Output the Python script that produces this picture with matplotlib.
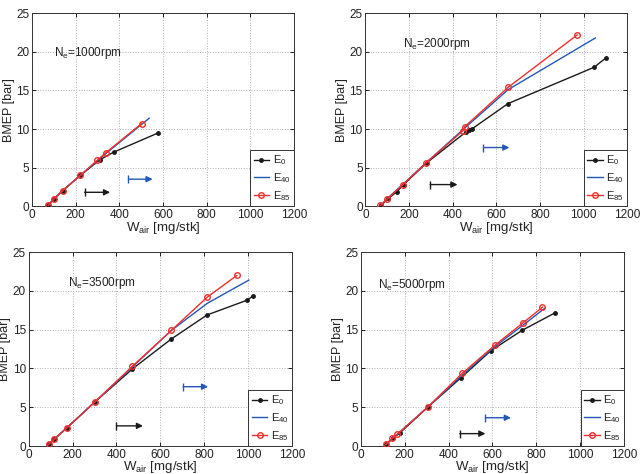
import numpy as np
import matplotlib
matplotlib.use('Agg')
import matplotlib.pyplot as plt

plt.rcParams['font.family'] = ['Liberation Sans', 'DejaVu Sans']
plt.rcParams['mathtext.fontset'] = 'custom'
plt.rcParams['mathtext.rm'] = 'Liberation Sans'
plt.rcParams['mathtext.it'] = 'Liberation Sans'
plt.rcParams['text.color'] = '#222222'
plt.rcParams['axes.labelcolor'] = '#222222'
plt.rcParams['xtick.labelcolor'] = '#222222'
plt.rcParams['ytick.labelcolor'] = '#222222'

# engine speeds (rpm)
speeds = [1000, 2000, 3500, 5000]

# E0 (air mass [mg/stk], BMEP [bar])
e0_w = [[74, 100, 140, 222, 310, 374, 579],
        [72, 105, 145, 175, 280, 460, 475, 490, 654, 1048, 1104],
        [90, 117, 172, 302, 473, 650, 813, 995, 1023],
        [114, 145, 178, 304, 456, 593, 734, 887]]
e0_b = [[0.1, 0.95, 2.0, 4.0, 6.0, 7.0, 9.5],
        [0.1, 1.0, 1.9, 2.8, 5.6, 9.6, 9.9, 10.05, 13.3, 18.0, 19.25],
        [0.2, 0.9, 2.3, 5.7, 9.95, 13.8, 16.9, 18.8, 19.35],
        [0.2, 1.0, 1.7, 5.0, 8.8, 12.3, 14.9, 17.2]]

# E40
e40_w = [[75, 100, 140, 222, 300, 340, 537],
         [70, 100, 170, 277, 450, 654, 1054],
         [90, 117, 172, 302, 473, 650, 814, 1004],
         [114, 143, 165, 304, 460, 605, 740, 840]]
e40_b = [[0.1, 0.95, 2.0, 4.0, 5.9, 6.85, 11.4],
         [0.1, 1.0, 2.8, 5.6, 10.0, 15.1, 21.8],
         [0.2, 0.95, 2.3, 5.7, 10.2, 14.9, 18.4, 21.4],
         [0.2, 1.0, 1.5, 5.0, 9.1, 12.7, 15.6, 17.8]]

# E85
e85_w = [[74, 100, 140, 222, 299, 337, 502],
         [69, 99, 170, 277, 448, 455, 654, 971],
         [90, 117, 172, 302, 473, 650, 814, 949],
         [114, 143, 165, 304, 463, 611, 740, 828]]
e85_b = [[0.1, 0.9, 2.0, 4.0, 5.95, 6.9, 10.7],
         [0.1, 0.9, 2.75, 5.6, 9.8, 10.3, 15.4, 22.2],
         [0.2, 0.9, 2.3, 5.7, 10.3, 14.9, 19.2, 22.0],
         [0.2, 1.0, 1.5, 5.0, 9.4, 13.0, 15.9, 17.9]]

# trend arrows: (x start, x end, y)
arrows_e0 = [(241, 358, 1.8), (297, 422, 2.8), (400, 521, 2.6), (451, 568, 1.6)]
arrows_e40 = [(442, 553, 3.5), (541, 660, 7.6), (704, 818, 7.65), (568, 684, 3.65)]

label_pos = [(100, 19.5), (170, 20.6), (179, 20.6), (76, 20.4)]

c_e0 = '#1a1a1a'
c_e40 = '#2358b8'
c_e85 = '#f0302c'

axes_rect = [[0.050, 0.565, 0.409, 0.407],
             [0.571, 0.565, 0.409, 0.407],
             [0.045, 0.059, 0.411, 0.409],
             [0.564, 0.059, 0.411, 0.409]]

fig = plt.figure(figsize=(6.4, 4.74), dpi=100)

for i, rpm in enumerate(speeds):
    ax = fig.add_axes(axes_rect[i])
    ax.plot(e0_w[i], e0_b[i], '-', color=c_e0, lw=1.0, marker='.', ms=5,
            label=r'E$_0$', zorder=3)
    ax.plot(e40_w[i], e40_b[i], '-', color=c_e40, lw=1.0,
            label=r'E$_{40}$', zorder=4)
    ax.plot(e85_w[i], e85_b[i], '-', color=c_e85, lw=1.0, marker='o', ms=4,
            mfc='none', mew=1.0, label=r'E$_{85}$', zorder=5)

    for (xs, xe, y), col in ((arrows_e0[i], c_e0), (arrows_e40[i], c_e40)):
        ax.annotate('', xy=(xe, y), xytext=(xs, y),
                    arrowprops=dict(arrowstyle='-|>', color=col, lw=1.0,
                                    mutation_scale=9, shrinkA=0, shrinkB=0))
        ax.plot([xs], [y], marker='|', ms=6, mew=1.0, color=col)

    tx, ty = label_pos[i]
    ax.text(tx, ty, r'N$_{\rm e}$=%drpm' % rpm, fontsize=8.5, va='baseline')

    ax.set_xlim(0, 1200)
    ax.set_ylim(0, 25)
    ax.set_xticks(np.arange(0, 1201, 200))
    ax.set_yticks(np.arange(0, 26, 5))
    ax.grid(True, ls=':', color='#b0b0b0', lw=0.7)
    ax.tick_params(direction='in', labelsize=8.5, length=3, width=0.6,
                   top=True, right=True, pad=2)
    for s in ax.spines.values():
        s.set_linewidth(0.7)
        s.set_color('#333333')
    ax.set_xlabel(r'W$_{\rm air}$ [mg/stk]', fontsize=9.5, labelpad=-1)
    ax.set_ylabel('BMEP [bar]', fontsize=9, labelpad=1)

    leg = ax.legend(loc='lower right', fontsize=8, borderaxespad=0,
                    fancybox=False, framealpha=1, edgecolor='#333333',
                    handlelength=1.4, handletextpad=0.3, labelspacing=0.35,
                    borderpad=0.3)
    leg.get_frame().set_linewidth(0.7)

plt.savefig('out.png', dpi=100)
